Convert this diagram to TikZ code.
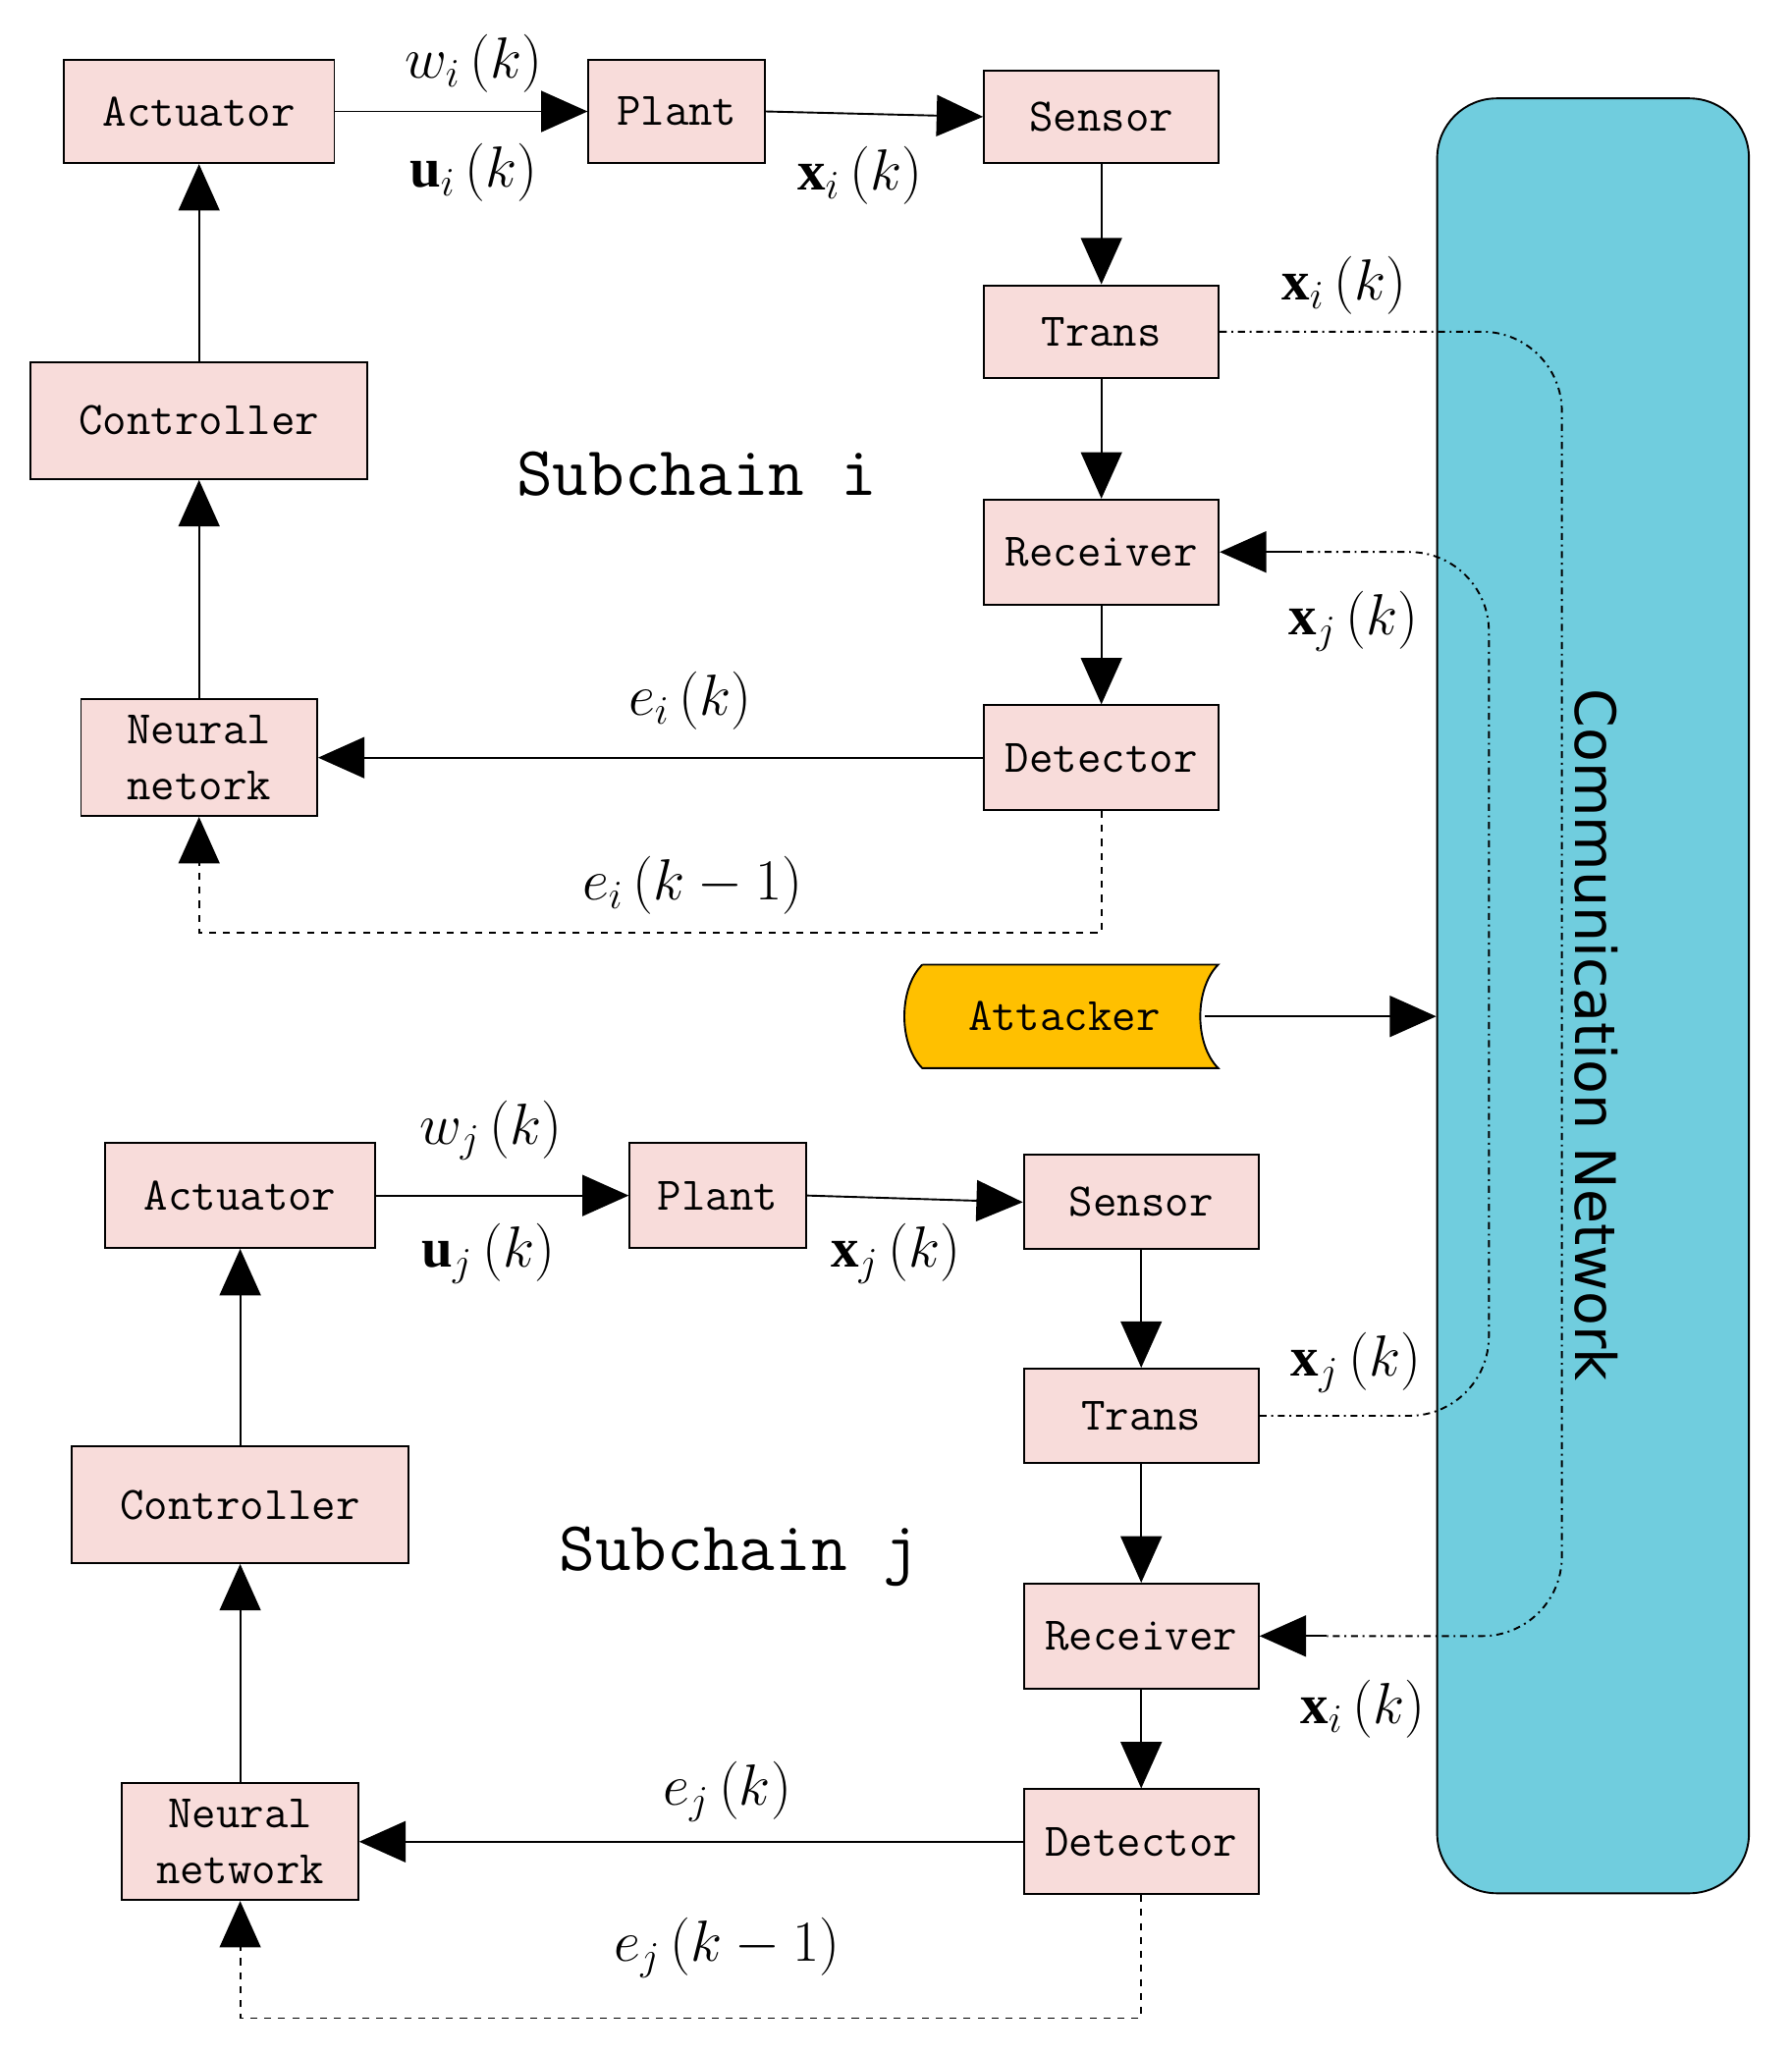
\documentclass[tikz,border=0pt]{standalone}
\usepackage{fontspec}
\setmainfont{Liberation Serif}
\newfontfamily\commfont{DejaVu Sans}
\usetikzlibrary{arrows.meta}
\definecolor{boxpink}{RGB}{248,220,218}
\definecolor{commcyan}{RGB}{112,205,222}
\definecolor{attyellow}{RGB}{255,192,0}
\begin{document}
\begin{tikzpicture}[x=0.02cm,y=-0.02cm,
  box/.style={draw,thick,fill=boxpink,font=\fontsize{20}{24}\selectfont\ttfamily,inner sep=0pt,align=center},
  arr/.style={thick,-{Triangle[length=0.7cm,width=0.62cm]}},
  lab/.style={font=\fontsize{24}{28}\selectfont},
  dd/.style={thick,dash dot,rounded corners=1.2cm}]
\useasboundingbox (0,0) rectangle (1350,1548);
\node[draw,thick,fill=commcyan,rounded corners=0.9cm,minimum width=4.7cm,minimum height=27.06cm] (cn) at (1200.5,750.5) {};
\node[rotate=-90,font=\fontsize{24}{28}\selectfont\commfont] (cnt) at (1203,780) {Communication Network};
% Subchain i
\node[box,minimum width=4.08cm,minimum height=1.56cm] (act1) at (150,84) {Actuator};
\node[box,minimum width=2.66cm,minimum height=1.56cm] (pl1) at (510,84) {Plant};
\node[box,minimum width=3.54cm,minimum height=1.4cm] (se1) at (830,88) {Sensor};
\node[box,minimum width=3.54cm,minimum height=1.4cm] (tr1) at (830,250) {Trans};
\node[box,minimum width=3.54cm,minimum height=1.58cm] (re1) at (830,416) {Receiver};
\node[box,minimum width=3.54cm,minimum height=1.58cm] (de1) at (830,571) {Detector};
\node[box,minimum width=3.56cm,minimum height=1.76cm] (nn1) at (150,571) {Neural\\netork};
\node[box,minimum width=5.08cm,minimum height=1.76cm] (co1) at (150,317) {Controller};
\node[font=\fontsize{30}{34}\selectfont\ttfamily] (sc1) at (525,357) {Subchain i};
% Subchain j
\node[box,minimum width=4.08cm,minimum height=1.58cm] (act2) at (181,901) {Actuator};
\node[box,minimum width=2.66cm,minimum height=1.58cm] (pl2) at (541,901) {Plant};
\node[box,minimum width=3.54cm,minimum height=1.42cm] (se2) at (860,906) {Sensor};
\node[box,minimum width=3.54cm,minimum height=1.42cm] (tr2) at (860,1067) {Trans};
\node[box,minimum width=3.54cm,minimum height=1.58cm] (re2) at (860,1233) {Receiver};
\node[box,minimum width=3.54cm,minimum height=1.58cm] (de2) at (860,1388) {Detector};
\node[box,minimum width=3.56cm,minimum height=1.76cm] (nn2) at (181,1388) {Neural\\network};
\node[box,minimum width=5.08cm,minimum height=1.76cm] (co2) at (181,1134) {Controller};
\node[font=\fontsize{30}{34}\selectfont\ttfamily] (sc2) at (557,1173) {Subchain j};
% Attacker
\draw[thick,fill=attyellow] (695,727) -- (918,727) .. controls (900,745) and (900,787) .. (918,805) -- (695,805) .. controls (677,787) and (677,745) .. (695,727);
\node[font=\fontsize{20}{24}\selectfont\ttfamily] (att) at (802,766) {Attacker};
\coordinate (attr) at (908,766);
\draw[arr] (attr) -- (cn.west |- attr);
% connectors i
\draw[arr] (act1) -- (pl1);
\draw[arr] (pl1.east) -- (se1.west);
\draw[arr] (se1) -- (tr1);
\draw[arr] (tr1) -- (re1);
\draw[arr] (re1) -- (de1);
\draw[arr] (de1) -- (nn1);
\draw[arr] (nn1) -- (co1);
\draw[arr] (co1) -- (act1);
\draw[arr,dashed] (de1.south) -- (830,703) -- (150,703) -- (nn1.south);
% connectors j
\draw[arr] (act2) -- (pl2);
\draw[arr] (pl2.east) -- (se2.west);
\draw[arr] (se2) -- (tr2);
\draw[arr] (tr2) -- (re2);
\draw[arr] (re2) -- (de2);
\draw[arr] (de2) -- (nn2);
\draw[arr] (nn2) -- (co2);
\draw[arr] (co2) -- (act2);
\draw[arr,dashed] (de2.south) -- (860,1521) -- (181,1521) -- (nn2.south);
% network lines
\draw[dd] (tr1.east) -- (1177,250) -- (1177,1233) -- (1000,1233);
\draw[arr] (1000,1233) -- (re2.east);
\draw[dd] (tr2.east) -- (1122,1067) -- (1122,416) -- (980,416);
\draw[arr] (980,416) -- (re1.east);
% labels
\node[lab] at (357,48) {$w_{i}\left(k\right)$};
\node[lab] at (357,130) {$\mathbf{u}_{i}\left(k\right)$};
\node[lab] at (648,132) {$\mathbf{x}_{i}\left(k\right)$};
\node[lab] at (1013,215) {$\mathbf{x}_{i}\left(k\right)$};
\node[lab] at (1020,468) {$\mathbf{x}_{j}\left(k\right)$};
\node[lab] at (520,528) {$e_{i}\left(k\right)$};
\node[lab] at (522,667) {$e_{i}\left(k-1\right)$};
\node[lab] at (370,852) {$w_{j}\left(k\right)$};
\node[lab] at (368,945) {$\mathbf{u}_{j}\left(k\right)$};
\node[lab] at (675,945) {$\mathbf{x}_{j}\left(k\right)$};
\node[lab] at (1022,1027) {$\mathbf{x}_{j}\left(k\right)$};
\node[lab] at (1027,1288) {$\mathbf{x}_{i}\left(k\right)$};
\node[lab] at (548,1350) {$e_{j}\left(k\right)$};
\node[lab] at (548,1468) {$e_{j}\left(k-1\right)$};
\end{tikzpicture}
\end{document}
